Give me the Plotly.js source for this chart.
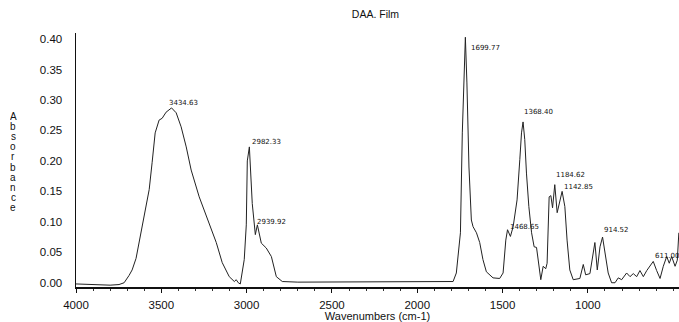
<!DOCTYPE html>
<html><head><meta charset="utf-8">
<script src="https://cdn.plot.ly/plotly-3.0.1.min.js"></script>
<style>html,body{margin:0;padding:0;background:#fff}#chart{width:679px;height:322px}</style>
</head><body><div id="chart"></div>
<script>
// Wavenumbers (cm-1) and absorbance
const wavenumbers = [4000,3900,3800,3748,3718,3689,3671,3648,3630,3601,3571,3554,3536,3513,3495,3472,3440,3413,3384,3354,3325,3278,3219,3178,3143,3102,3072,3061,3049,3037,3014,3002,2996,2984,2967,2949,2937,2914,2885,2855,2826,2791,2700,2400,2100,1850,1790,1771,1747,1736,1726,1718,1709,1697,1683,1673,1653,1634,1615,1595,1556,1517,1497,1481,1471,1454,1438,1428,1415,1399,1389,1380,1370,1360,1346,1330,1315,1301,1282,1276,1262,1247,1239,1227,1217,1207,1194,1180,1151,1135,1122,1106,1086,1047,1027,1013,988,972,959,945,929,914,900,881,861,841,822,802,773,753,734,714,695,675,655,636,617,597,577,558,538,523,509,489,476,467];
const absorbance = [-0.002,-0.003,-0.004,-0.003,0.0,0.012,0.021,0.040,0.066,0.108,0.153,0.197,0.246,0.267,0.270,0.280,0.287,0.279,0.256,0.223,0.185,0.141,0.098,0.066,0.033,0.010,0.002,0.005,0.0,-0.002,0.038,0.095,0.200,0.223,0.130,0.079,0.095,0.065,0.057,0.043,0.010,0.002,0.001,0.001,0.001,0.001,0.002,0.016,0.082,0.246,0.360,0.403,0.328,0.190,0.103,0.092,0.082,0.066,0.038,0.018,0.008,0.007,0.016,0.070,0.087,0.076,0.092,0.115,0.136,0.202,0.246,0.264,0.235,0.180,0.125,0.082,0.059,0.058,0.018,0.005,0.027,0.023,0.032,0.141,0.143,0.123,0.161,0.115,0.150,0.125,0.070,0.021,0.005,0.007,0.030,0.013,0.015,0.043,0.066,0.021,0.059,0.075,0.049,0.016,0.0,0.0,0.008,0.005,0.016,0.010,0.015,0.010,0.020,0.010,0.020,0.027,0.035,0.020,0.007,0.027,0.043,0.032,0.043,0.027,0.037,0.082];
// Peak labels
const peakLabels = ["3434.63","2982.33","2939.92","1699.77","1368.40","1468.65","1184.62","1142.85","914.52","611.00"];
const labelX = [3372,2979,2949,1699,1387,1470,1200,1153,918,618];
const labelY = [0.295,0.231,0.100,0.385,0.280,0.092,0.177,0.157,0.087,0.044];
const yTicks = [0,0.05,0.10,0.15,0.20,0.25,0.30,0.35,0.40];
const xTicks = [4000,3500,3000,2500,2000,1500,1000];
const yTitleLetters = ['A','b','s','o','r','b','a','n','c','e'];

const annotations = peakLabels.map((t,i)=>({
  x: labelX[i], y: labelY[i], xref:'x', yref:'y', text:t, showarrow:false,
  xanchor: i===0 ? 'center' : 'left', yanchor:'middle',
  font:{family:'DejaVu Sans, Arial, sans-serif', size:7, color:'#111'}
}));
// vertical stacked axis title, one letter per row (~10 px apart)
yTitleLetters.forEach((ch,i)=>{
  annotations.push({
    xref:'paper', yref:'paper', x:-0.104, y:(287-(116.5+i*10.1))/254, showarrow:false,
    text: ch, xanchor:'center', yanchor:'middle', height:9, valign:'middle',
    font:{family:'Liberation Sans, Arial, sans-serif', size:10, color:'#111'}
  });
});

Plotly.newPlot('chart', [{
  x: wavenumbers, y: absorbance, type:'scatter', mode:'lines',
  line:{color:'#222', width:1}, hoverinfo:'skip'
}], {
  width:679, height:322,
  margin:{l:76, r:0, t:33, b:35},
  paper_bgcolor:'#fff', plot_bgcolor:'#fff',
  showlegend:false,
  title:{text:'DAA. Film', x:0.553, xanchor:'center', y:0.955, yanchor:'middle',
    font:{family:'Liberation Sans, Arial, sans-serif', size:10.5, color:'#111'}},
  xaxis:{range:[4000,466], tickvals:xTicks, ticktext:xTicks.map(String),
    showgrid:false, zeroline:false, showline:true, linecolor:'#111', linewidth:1.5,
    ticks:'outside', ticklen:4, tickcolor:'#111', ticklabelstandoff:3,
    minor:{dtick:100, ticks:'outside', ticklen:2, tickcolor:'#333', showgrid:false},
    tickfont:{family:'Liberation Sans, Arial, sans-serif', size:11.5, color:'#111'},
    title:{text:'Wavenumbers (cm-1)', standoff:0,
      font:{family:'Liberation Sans, Arial, sans-serif', size:11, color:'#111'}}},
  yaxis:{range:[-0.007,0.41], tickvals:yTicks, ticktext:yTicks.map(v=>v.toFixed(2)),
    showgrid:false, zeroline:false, showline:true, linecolor:'#111', linewidth:1.5,
    ticks:'', ticklabelstandoff:10,
    tickfont:{family:'Liberation Sans, Arial, sans-serif', size:11.5, color:'#111'}},
  annotations: annotations
}, {staticPlot:true, displayModeBar:false});
</script></body></html>
